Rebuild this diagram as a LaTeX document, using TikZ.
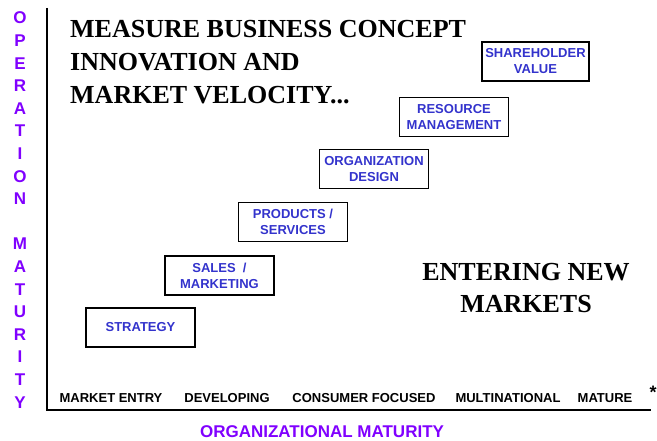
\documentclass[tikz,border=0pt]{standalone}
\usepackage{fontspec}
\setmainfont{Liberation Serif}
\setsansfont{Liberation Sans}
\definecolor{axispurple}{RGB}{128,0,255}
\definecolor{boxblue}{RGB}{51,51,204}
\tikzset{
  stage/.style={draw, line width=1.2pt, minimum width=109pt, minimum height=39pt,
    inner sep=0pt, align=center, text=boxblue,
    font=\sffamily\bfseries\fontsize{13}{16}\selectfont},
  tick/.style={anchor=base, font=\sffamily\bfseries\fontsize{13}{16}\selectfont},
  bigtext/.style={inner sep=0pt, font=\bfseries\fontsize{26}{33}\selectfont}
}

\begin{document}
\begin{tikzpicture}[x=1pt,y=-1pt]
        \useasboundingbox (0,0) rectangle (657,441);

        % axes
        \coordinate (top) at (47,8);
        \coordinate (origin) at (47,410);
        \coordinate (right) at (651,410);
        \draw[line width=1.5pt] (top) -- (origin) -- (right);

        \node (yaxis) at (20,210) [align=center, inner sep=0pt, text=axispurple,
            font=\sffamily\bfseries\fontsize{17}{22.6}\selectfont]
            {O\\P\\E\\R\\A\\T\\I\\O\\N\\[22.6pt]M\\A\\T\\U\\R\\I\\T\\Y};

        \node (title) at (70,20) [bigtext, anchor=north west, align=left]
            {MEASURE BUSINESS CONCEPT\\INNOVATION AND\\MARKET VELOCITY...};

        \node (strategy) at (140.5,327.5) [stage] {STRATEGY};
        \node (sales) at (219.5,275.5) [stage] {SALES~~/\\MARKETING};
        \node (products) at (293,222) [stage] {PRODUCTS /\\SERVICES};
        \node (orgdesign) at (374,169) [stage] {ORGANIZATION\\DESIGN};
        \node (resource) at (454,117) [stage] {RESOURCE\\MANAGEMENT};
        \node (shareholder) at (535.5,61.5) [stage, minimum width=107pt] {SHAREHOLDER\\VALUE};

        \node (newmarkets) at (526,288) [bigtext, align=center, font=\bfseries\fontsize{26}{32}\selectfont]
            {ENTERING NEW\\MARKETS};

        \node (entry) at (111,402) [tick] {MARKET ENTRY};
        \node (developing) at (227,402) [tick] {DEVELOPING};
        \node (consumer) at (364,402) [tick] {CONSUMER FOCUSED};
        \node (multinational) at (508,402) [tick] {MULTINATIONAL};
        \node (mature) at (605,402) [tick] {MATURE};
        \node (star) at (653,392) [inner sep=0pt, font=\sffamily\bfseries\fontsize{18}{18}\selectfont] {*};

        \node (xaxis) at (322,437) [tick, text=axispurple, font=\sffamily\bfseries\fontsize{17}{20}\selectfont]
            {ORGANIZATIONAL MATURITY};
    \end{tikzpicture}
\end{document}
